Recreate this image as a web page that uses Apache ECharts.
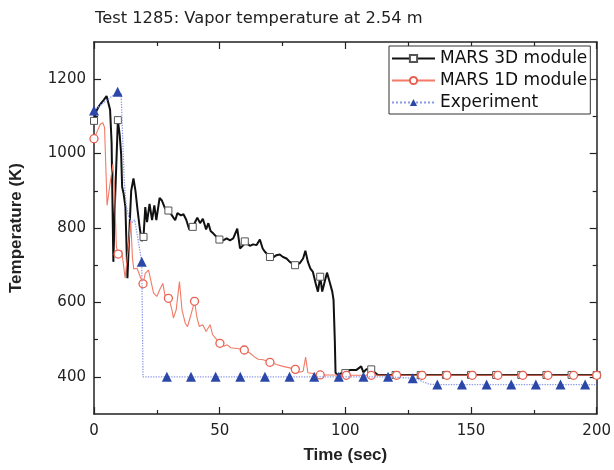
<!DOCTYPE html>
<html><head><meta charset="utf-8">
<script src="https://cdn.jsdelivr.net/npm/echarts@6/dist/echarts.min.js"></script>
<style>html,body{margin:0;padding:0;background:#fff}#c{width:614px;height:470px}</style>
</head><body><div id="c"></div>
<script>
const titleText = 'Test 1285: Vapor temperature at 2.54 m';
const seriesNames = ['MARS 3D module', 'MARS 1D module', 'Experiment'];
const xAxisName = 'Time (sec)';
const yAxisName = 'Temperature (K)';
const yMajorTicks = [400, 600, 800, 1000, 1200];
const yMinorTicks = [500, 700, 900, 1100];

// MARS 3D module: line points (between markers)
const time3D = [1, 2, 3, 4, 5, 5.6, 6.4, 7, 7.7, 8.4, 10.2, 10.8, 11.2, 11.8, 12.5, 13.3, 14, 14.8, 15.7, 16.5, 17.3, 18.2, 19,
  20.4, 21.1, 22.1, 23.1, 24, 24.8, 26.1, 27, 28.3, 31, 32.3, 33.2, 34.6, 35.6, 36.7, 37.9,
  40.6, 41.1, 42.2, 43.3, 44.6, 45.5, 46.4, 47.5, 48.8, 51.4, 52.8, 54.1, 55.4, 57, 58.1, 59.4,
  62, 63.3, 64.7, 66, 67.1, 68, 71.3, 72.6, 73.9, 75.2, 76.6, 77.9, 81.8, 83.2, 84.1, 85.1, 86.1, 87.1, 88.2, 89.1,
  90.8, 91.8, 92.7, 93.7, 94.8, 95.3, 95.8, 96.1, 97, 98.5, 101.7, 104.3, 106.3, 107.2, 108.3, 111.6, 113];
const temp3D = [1115, 1128, 1137, 1145, 1155, 1160, 1118, 1030, 709, 880, 1052, 999, 910, 892, 856, 665, 780, 900, 933, 900, 850, 800, 765,
  856, 816, 865, 821, 861, 821, 881, 874, 852, 834, 821, 840, 834, 837, 822, 796,
  821, 828, 813, 825, 796, 813, 792, 785, 776, 767, 772, 767, 772, 798, 745, 754,
  752, 756, 754, 769, 745, 736, 721, 727, 729, 722, 718, 709, 705, 718, 739, 709, 691, 682, 651, 629,
  629, 656, 680, 656, 629, 607, 500, 411, 405, 410, 418, 418, 428, 412, 420, 412, 405];
const markTime3D = [0, 9.5, 19.7, 29.6, 39.3, 49.9, 60, 70, 80, 90, 100, 110.3, 120, 130, 140, 150, 160, 170, 180, 190, 200];
const markTemp3D = [1088, 1090, 776, 847, 803, 769, 764, 722, 700, 669, 410, 420, 405, 405, 405, 405, 405, 405, 405, 405, 405];

// MARS 1D module
const time1D = [1.1, 2.5, 3.5, 4.2, 5.2, 6, 7.5, 8.2, 8.9, 11, 12.4, 13.8, 14.6, 15.3, 15.8, 17.1, 18.4,
  20.4, 21.7, 22.4, 23.7, 25, 26.4, 27.4, 28.3, 30.3, 31, 31.6, 32.7, 34, 35, 36.3, 37.2, 38.2,
  40.9, 41.9, 43.3, 44.6, 46.2, 47.2, 48.6, 51.7, 53, 54.4, 57, 62, 64, 65.3, 67.3,
  72.6, 75.2, 77.9, 81.8, 83.2, 84.2, 85.1, 87.1, 93.7];
const temp1D = [1057, 1079, 1083, 1070, 861, 900, 972, 900, 749, 740, 665, 760, 820, 720, 690, 692, 669,
  678, 687, 665, 625, 616, 638, 651, 616, 598, 580, 558, 580, 656, 580, 544, 535, 558,
  562, 535, 540, 522, 540, 513, 502, 482, 486, 478, 476, 464, 453, 447, 446,
  433, 428, 424, 412, 415, 453, 411, 409, 405];
const markTime1D = [0, 9.6, 19.5, 29.6, 40, 50.1, 59.8, 70, 80.1, 90, 100.4, 110.3, 120.4, 130.5, 140.4, 150.5, 160.7, 170.6, 180.6, 190.8, 200];
const markTemp1D = [1040, 730, 650, 611, 603, 490, 472, 439, 420, 405, 404, 404, 404, 404, 404, 404, 404, 404, 404, 404, 404];

// Experiment
const timeExp = [10.8, 11.3, 12, 12.8, 13.8, 15, 16.2, 17.5, 19.5, 129, 131, 133.5, 200];
const tempExp = [1160, 1060, 930, 860, 830, 815, 822, 770, 400, 393, 386, 380, 379];
const markTimeExp = [0, 9.4, 19, 29, 38.6, 48.4, 58.2, 68, 77.8, 87.6, 97.4, 107.2, 117, 126.8, 136.6, 146.4, 156.2, 166, 175.8, 185.6, 195.4];
const markTempExp = [1116, 1166, 709, 400, 400, 400, 400, 400, 400, 400, 400, 400, 400, 396, 379, 379, 379, 379, 379, 379, 379];

function build(ts, vs, mts, mvs) {
  const pts = ts.map((t, i) => ({ value: [t, vs[i]], symbol: 'none' }));
  mts.forEach((t, i) => pts.push({ value: [t, mvs[i]] }));
  pts.sort((a, b) => a.value[0] - b.value[0]);
  return pts;
}

const axisColor = '#222';
const labelFont = { fontFamily: 'DejaVu Sans', fontSize: 15, color: '#222' };
const nameFont = { fontFamily: 'Liberation Sans', fontSize: 17, fontWeight: 'bold', color: '#222' };

function xAx(pos, withLabel) {
  return {
    type: 'value', position: pos, min: 0, max: 200, interval: 50,
    axisLine: { show: true, onZero: false, lineStyle: { color: axisColor, width: 1.5 } },
    axisTick: { show: true, inside: true, length: 7, lineStyle: { color: axisColor, width: 1.2 } },
    minorTick: { show: true, splitNumber: 2, length: 4, lineStyle: { color: axisColor, width: 1.2 } },
    splitLine: { show: false },
    axisLabel: Object.assign({ show: withLabel, margin: 10, formatter: v => String(v) }, labelFont),
    name: withLabel ? xAxisName : '', nameLocation: 'middle', nameGap: 33, nameTextStyle: nameFont
  };
}
function yAx(pos, ticks, len, withLine, withLabel) {
  return {
    type: 'value', position: pos, min: 300, max: 1300, interval: 100,
    axisLine: { show: withLine, onZero: false, lineStyle: { color: axisColor, width: 1.5 } },
    axisTick: { show: true, inside: true, length: len, customValues: ticks, lineStyle: { color: axisColor, width: 1.2 } },
    splitLine: { show: false },
    axisLabel: Object.assign({ show: withLabel, margin: 8, customValues: ticks, formatter: v => String(v) }, labelFont),
    name: withLabel ? yAxisName : '', nameLocation: 'middle', nameGap: 69, nameTextStyle: nameFont
  };
}

const chart = echarts.init(document.getElementById('c'), null, { renderer: 'canvas' });
chart.setOption({
  backgroundColor: '#fff',
  animation: false,
  title: { text: titleText, left: 90, top: 6, textStyle: { fontFamily: 'DejaVu Sans', fontSize: 16.3, fontWeight: 'normal', color: '#222' } },
  grid: { left: 93, right: 16, top: 42, bottom: 56, containLabel: false },
  legend: {
    orient: 'vertical', left: 389, top: 46, itemWidth: 43, itemHeight: 9, itemGap: 5,
    padding: [4, 3, 3, 2], borderColor: '#333', borderWidth: 1, backgroundColor: '#fff',
    textStyle: { fontFamily: 'DejaVu Sans', fontSize: 17, color: '#111' },
    data: seriesNames
  },
  xAxis: [xAx('bottom', true), xAx('top', false)],
  yAxis: [yAx('left', yMajorTicks, 7, true, true), yAx('left', yMinorTicks, 4, false, false),
          yAx('right', yMajorTicks, 7, true, false), yAx('right', yMinorTicks, 4, false, false)],
  series: [
    {
      name: seriesNames[0], type: 'line', xAxisIndex: 0, yAxisIndex: 0,
      data: build(time3D, temp3D, markTime3D, markTemp3D),
      symbol: 'rect', symbolSize: 7, showSymbol: true, showAllSymbol: true,
      lineStyle: { color: '#111', width: 2 },
      itemStyle: { color: '#fff', borderColor: '#555', borderWidth: 1 },
      z: 2
    },
    {
      name: seriesNames[1], type: 'line', xAxisIndex: 0, yAxisIndex: 0,
      data: build(time1D, temp1D, markTime1D, markTemp1D),
      symbol: 'circle', symbolSize: 8, showSymbol: true, showAllSymbol: true,
      lineStyle: { color: '#f27a66', width: 1.1 },
      itemStyle: { color: '#fff', borderColor: '#e8604f', borderWidth: 1.3 },
      z: 3
    },
    {
      name: seriesNames[2], type: 'line', xAxisIndex: 0, yAxisIndex: 0,
      data: build(timeExp, tempExp, markTimeExp, markTempExp),
      symbol: 'triangle', symbolSize: 10, showSymbol: true, showAllSymbol: true,
      lineStyle: { color: '#8a98e6', width: 1.3, type: 'dotted' },
      itemStyle: { color: '#2b48a8', borderWidth: 0 },
      z: 4
    }
  ]
});
</script>
</body></html>
